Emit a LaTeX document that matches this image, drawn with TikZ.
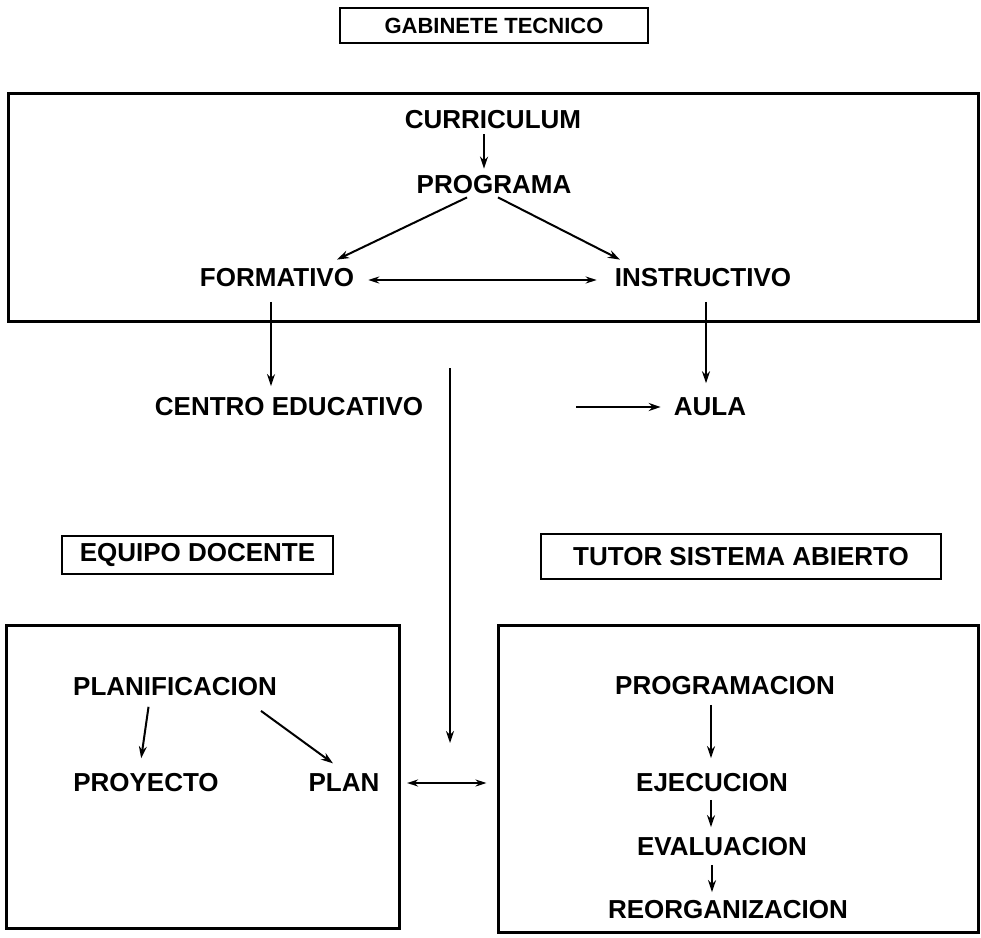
\documentclass[tikz,border=0pt]{standalone}
\usepackage{fontspec}
\setmainfont{Liberation Sans}
\usetikzlibrary{arrows.meta}

\begin{document}
\begin{tikzpicture}[x=1pt,y=1pt,yscale=-1,xscale=1,
	lbl/.style={font=\fontsize{26}{30}\selectfont\bfseries, inner sep=0pt},
	titlebox/.style={draw, line width=2.5pt, font=\fontsize{26}{30}\selectfont\bfseries, inner sep=0pt},
	frame/.style={draw, line width=3pt, inner sep=0pt},
	arr/.style={-{Stealth[length=12pt,width=8pt]}, line width=2pt},
	arrboth/.style={{Stealth[length=11pt,width=7pt]}-{Stealth[length=11pt,width=7pt]}, line width=2pt}]
	\useasboundingbox (0,0) rectangle (981,937);

	%Shape: Rectangle
	\draw [line width=3pt] (8,93) rectangle (978,321) ;
	%Shape: Rectangle
	\node [frame, minimum width=393, minimum height=303] (equipobox) at (202.5,776.5) {};
	%Shape: Rectangle
	\node [frame, minimum width=480, minimum height=307] (tutorbox) at (738,778.5) {};

	% Text Node
	\node [titlebox, font=\fontsize{22}{26}\selectfont\bfseries, minimum width=308, minimum height=35] (gab) at (494,25.5) {GABINETE TECNICO};
	% Text Node
	\node [lbl] (curr) at (493,120) {CURRICULUM};
	% Text Node
	\node [lbl] (prog) at (494,185) {PROGRAMA};
	% Text Node
	\node [lbl] (form) at (277,278) {FORMATIVO};
	% Text Node
	\node [lbl] (instr) at (703,278) {INSTRUCTIVO};
	% Text Node
	\node [lbl] (centro) at (289,407) {CENTRO EDUCATIVO};
	% Text Node
	\node [lbl] (aula) at (710,407) {AULA};
	% Text Node
	\node [titlebox, minimum width=271, minimum height=38] (equipo) at (197.5,555) {EQUIPO DOCENTE};
	% Text Node
	\node [titlebox, minimum width=400, minimum height=45] (tutor) at (741,556.5) {TUTOR SISTEMA ABIERTO};
	% Text Node
	\node [lbl] (planif) at (175,687) {PLANIFICACION};
	% Text Node
	\node [lbl] (proy) at (146,783) {PROYECTO};
	% Text Node
	\node [lbl] (plan) at (344,783) {PLAN};
	% Text Node
	\node [lbl] (progm) at (725,686) {PROGRAMACION};
	% Text Node
	\node [lbl] (ejec) at (712,783) {EJECUCION};
	% Text Node
	\node [lbl] (eval) at (722,847) {EVALUACION};
	% Text Node
	\node [lbl] (reorg) at (728,910) {REORGANIZACION};

	\coordinate (cline) at (450,368);
	\coordinate (cend) at (450,743);
	\coordinate (astart) at (576,407);

	%Straight Lines
	\draw [arr, shorten <=5pt, shorten >=7pt] ([xshift=-9pt]curr.south) -- ([xshift=-10pt]prog.north) ;
	%Straight Lines
	\draw [arr] ([xshift=-27pt,yshift=3pt]prog.south) -- ([xshift=60pt,yshift=-9pt]form.north) ;
	%Straight Lines
	\draw [arr] ([xshift=4pt,yshift=3pt]prog.south) -- ([xshift=-83pt,yshift=-9pt]instr.north) ;
	%Straight Lines
	\draw [arrboth, shorten <=14pt, shorten >=18pt] ([yshift=2pt]form.east) -- ([yshift=2pt]instr.west) ;
	%Straight Lines
	\draw [arr, shorten <=14.5pt, shorten >=11.5pt] ([xshift=-6pt]form.south) -- ([xshift=-18pt]centro.north) ;
	%Straight Lines
	\draw [arr, shorten <=14.5pt, shorten >=14.5pt] ([xshift=3pt]instr.south) -- ([xshift=-4pt]aula.north) ;
	%Straight Lines
	\draw [arr] (cline) -- (cend) ;
	%Straight Lines
	\draw [arr, shorten >=13pt] (astart) -- (aula.west) ;
	%Straight Lines
	\draw [arr, shorten <=10.5pt, shorten >=15.5pt] ([xshift=-25pt]planif.south) -- ([xshift=-7pt]proy.north) ;
	%Straight Lines
	\draw [arr] ([xshift=86pt,yshift=14.5pt]planif.south) -- ([xshift=-11pt,yshift=-10.5pt]plan.north) ;
	%Straight Lines
	\draw [arrboth, shorten <=27.5pt, shorten >=10pt] (plan.east) -- (plan.east -| tutorbox.west) ;
	%Straight Lines
	\draw [arr, shorten <=9.5pt, shorten >=15.5pt] ([xshift=-14pt]progm.south) -- ([xshift=-1pt]ejec.north) ;
	%Straight Lines
	\draw [arr, shorten <=7.5pt, shorten >=10.5pt] ([xshift=-1pt]ejec.south) -- ([xshift=-11pt]eval.north) ;
	%Straight Lines
	\draw [arr, shorten <=8.5pt, shorten >=8.5pt] ([xshift=-10pt]eval.south) -- ([xshift=-16pt]reorg.north) ;

\end{tikzpicture}
\end{document}
